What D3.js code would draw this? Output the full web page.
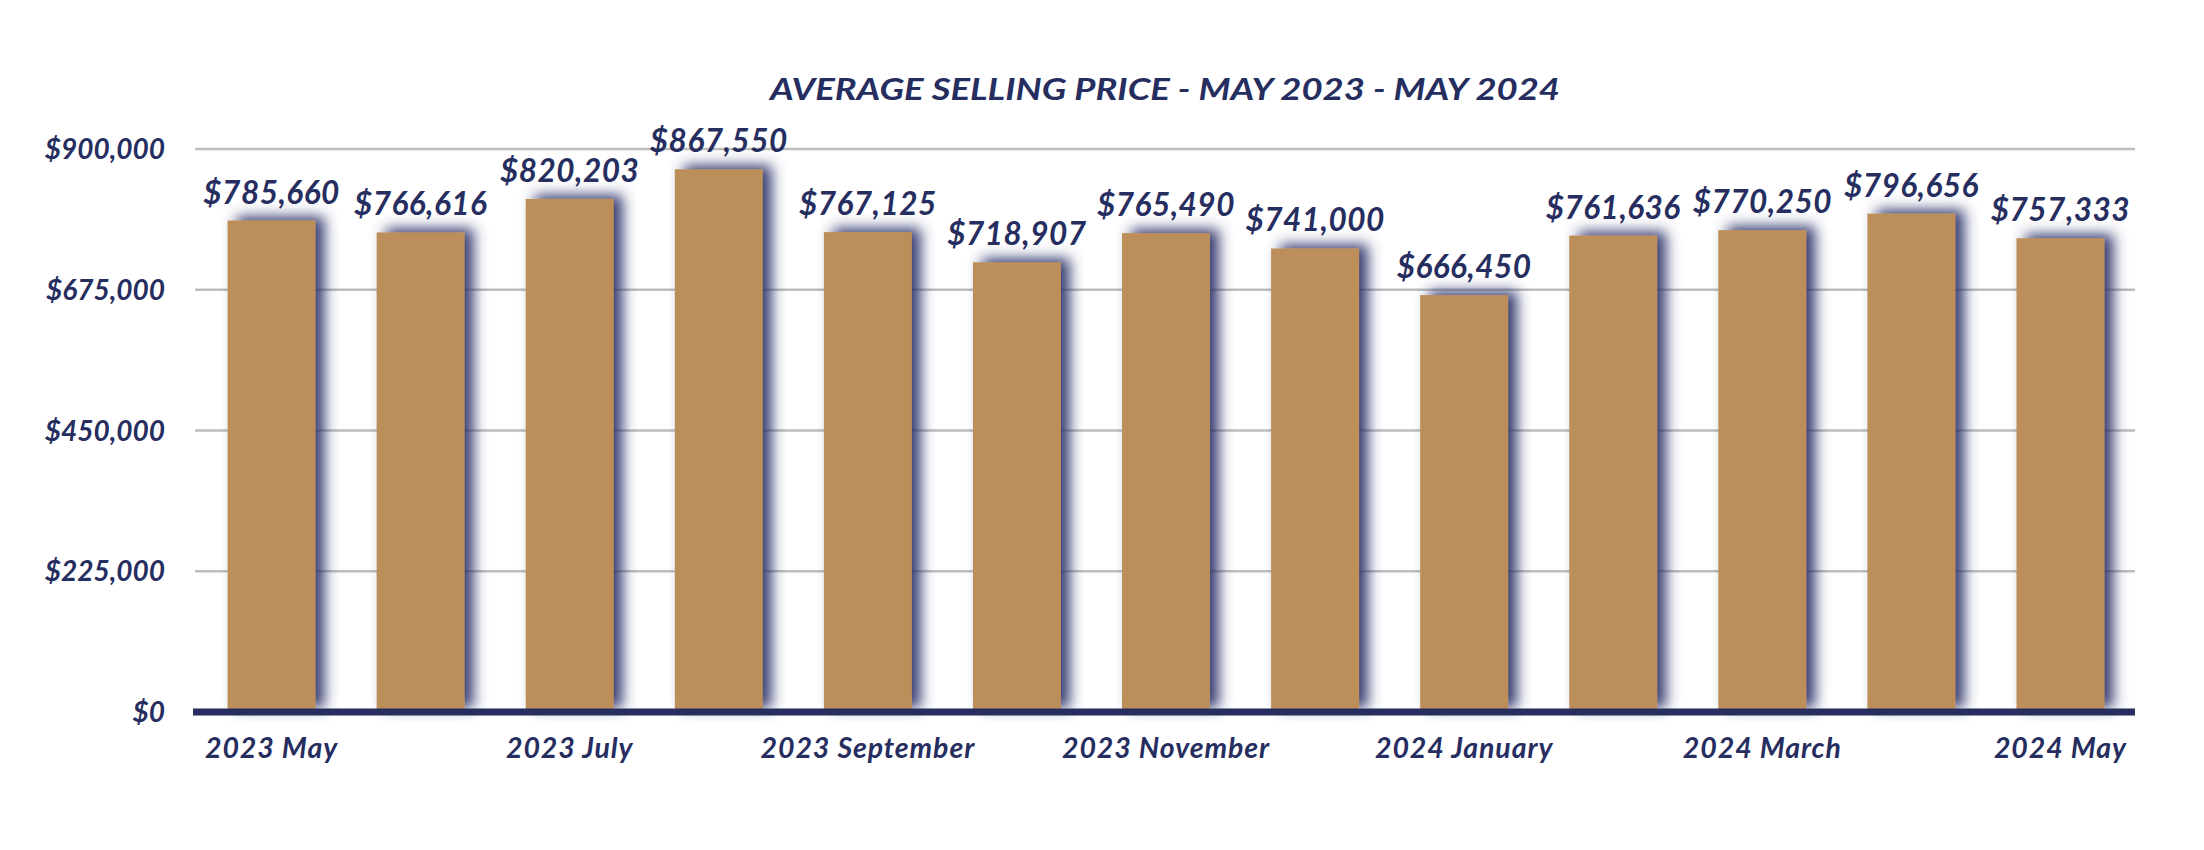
<!DOCTYPE html>
<html><head><meta charset="utf-8">
<script src="https://cdn.jsdelivr.net/npm/d3@7"></script>
<style>
html,body{margin:0;padding:0;background:#fff;}
svg{display:block;}
text{font-family:Lato,"Open Sans",sans-serif;font-weight:700;font-style:italic;fill:#262d5f;}
</style></head>
<body>
<svg id="chart" width="2204" height="850"></svg>
<script>
const categories = ["2023 May","2023 June","2023 July","2023 August","2023 September","2023 October","2023 November","2023 December","2024 January","2024 February","2024 March","2024 April","2024 May"];
const values = [785660,766616,820203,867550,767125,718907,765490,741000,666450,761636,770250,796656,757333];
const yTicks = [0,225000,450000,675000,900000];
const xTickLabels = ["2023 May","2023 July","2023 September","2023 November","2024 January","2024 March","2024 May"];
const title = "AVERAGE SELLING PRICE - MAY 2023 - MAY 2024";

const svg = d3.select("#chart");
const navy = "#262d5f";
const barColor = "#bc8e5a";

const x = d3.scaleBand().domain(categories).range([197, 2135]).paddingInner(0.41).paddingOuter(0.205);
const y = d3.scaleLinear().domain([0, 900000]).range([712, 149]);

const defs = svg.append("defs");
const f = defs.append("filter").attr("id","shadow").attr("x","-40%").attr("y","-30%").attr("width","180%").attr("height","160%");
f.append("feDropShadow").attr("dx",9).attr("dy",-4).attr("stdDeviation",7).attr("flood-color","#2a326b").attr("flood-opacity",0.95);

// title
svg.append("text").attr("x",1165).attr("y",100).attr("text-anchor","middle")
  .attr("font-size",31).attr("textLength",790).attr("lengthAdjust","spacingAndGlyphs").text(title);

// gridlines
const fmt = v => "$" + d3.format(",")(v);
svg.append("g").selectAll("line").data(yTicks.filter(d=>d>0)).join("line")
  .attr("x1",195).attr("x2",2135).attr("y1",d=>y(d)).attr("y2",d=>y(d))
  .attr("stroke","#bdbdbd").attr("stroke-width",2.5);

// y labels
svg.append("g").selectAll("text").data(yTicks).join("text")
  .attr("x",165).attr("y",d=>y(d)).attr("dy","0.36em").attr("text-anchor","end")
  .attr("font-size",28).text(fmt);

// bars
svg.append("g").selectAll("rect").data(values).join("rect")
  .attr("x",(d,i)=>x(categories[i])).attr("width",x.bandwidth())
  .attr("y",d=>y(d)).attr("height",d=>y(0)-y(d))
  .attr("fill",barColor).attr("filter","url(#shadow)");

// axis line
svg.append("line").attr("x1",193).attr("x2",2135).attr("y1",y(0)).attr("y2",y(0))
  .attr("stroke",navy).attr("stroke-width",7);

// value labels
svg.append("g").selectAll("text").data(values).join("text")
  .attr("x",(d,i)=>x(categories[i])+x.bandwidth()/2).attr("y",d=>y(d)-17)
  .attr("text-anchor","middle").attr("font-size",31.5).attr("letter-spacing",0.5).text(fmt);

// x labels
svg.append("g").selectAll("text").data(xTickLabels).join("text")
  .attr("x",d=>x(d)+x.bandwidth()/2).attr("y",758).attr("text-anchor","middle")
  .attr("font-size",28.5).attr("letter-spacing",0.9).text(d=>d);
</script>
</body></html>
